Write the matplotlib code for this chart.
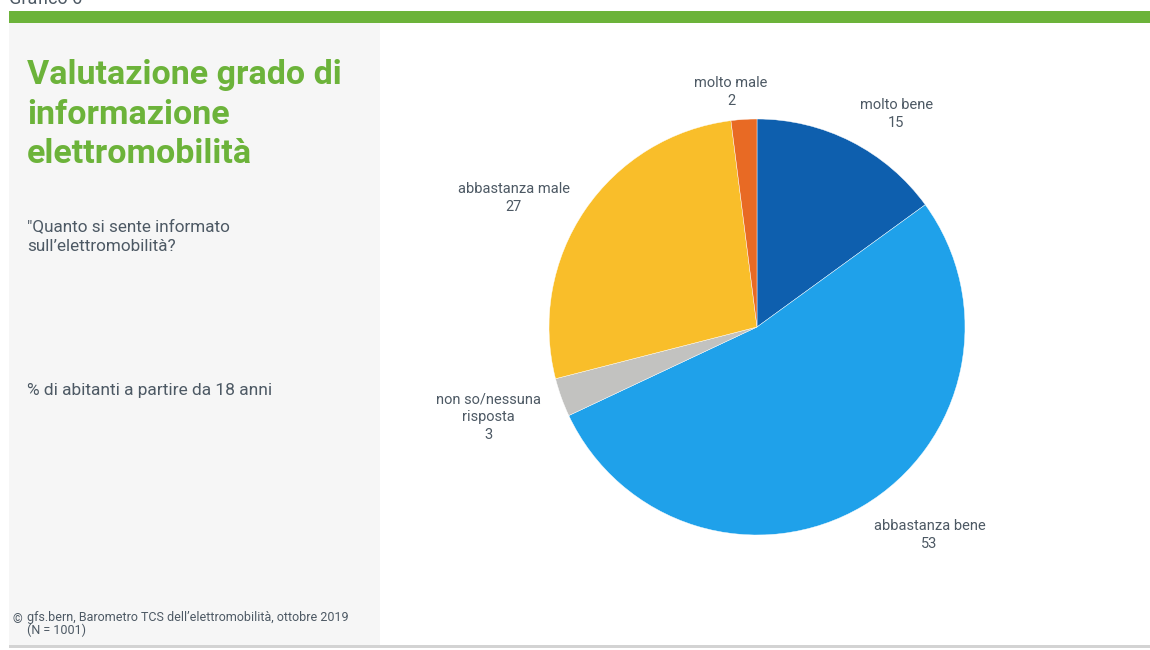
import matplotlib
matplotlib.use("Agg")
import matplotlib.pyplot as plt
from matplotlib.patches import Rectangle

plt.rcParams['font.family'] = ['Roboto', 'DejaVu Sans']

# valori in % (N = 1001)
categorie = ["molto bene", "abbastanza bene", "non so/nessuna\nrisposta", "abbastanza male", "molto male"]
valori = [15, 53, 3, 27, 2]
colori = ["#0e5fae", "#1fa1ea", "#c2c2c0", "#f9be2a", "#e86a24"]
# posizione etichette (coordinate dell'asse torta)
pos_etichette = [(0.67, 1.025), (0.83, -1.0), (-1.29, -0.435), (-1.17, 0.62), (-0.125, 1.13)]

W, H = 1150, 650
fig = plt.figure(figsize=(W / 100, H / 100), dpi=100)
fig.patch.set_facecolor("white")

def px(x, y, w, h):
    # rettangolo in pixel (origine in alto a sinistra) -> coordinate figura
    return [x / W, (H - y - h) / H, w / W, h / H]

# cornice: barra verde, pannello grigio, linea in fondo
for (x, y, w, h, c) in [(9, 11, 1141, 12, "#6cb33a"),
                        (9, 23, 371, 623, "#f6f6f6"),
                        (9, 645, 1141, 3, "#d3d3d3")]:
    b = px(x, y, w, h)
    fig.patches.append(Rectangle((b[0], b[1]), b[2], b[3], transform=fig.transFigure,
                                 facecolor=c, edgecolor="none", zorder=0))

testo = "#4d5964"
fig.text(9 / W, 1 - 4 / H, "Grafico 6", fontsize=13, color=testo, va="baseline")

fig.text(27 / W, 1 - 59 / H, "Valutazione grado di\ninformazione\nelettromobilità",
         fontsize=24.5, fontweight="bold", color="#6cb33a", va="top", linespacing=1.3)
fig.text(27 / W, 1 - 219 / H, "\"Quanto si sente informato\nsull’elettromobilità?",
         fontsize=12.3, color=testo, va="top", linespacing=1.45)
fig.text(27 / W, 1 - 383 / H, "% di abitanti a partire da 18 anni",
         fontsize=12.5, color=testo, va="top")
fig.text(12 / W, 1 - 613 / H, "©", fontsize=9, color=testo, va="top")
fig.text(27 / W, 1 - 611 / H, "gfs.bern, Barometro TCS dell’elettromobilità, ottobre 2019\n(N = 1001)",
         fontsize=9, color=testo, va="top", linespacing=0.95)

# torta: centro (757, 327), raggio 208 px
r = 208
ax = fig.add_axes(px(757 - r, 327 - r, 2 * r, 2 * r))
ax.pie(valori, colors=colori, startangle=90, counterclock=False, radius=1,
       wedgeprops=dict(edgecolor="white", linewidth=0.3))
ax.set_xlim(-1, 1)
ax.set_ylim(-1, 1)
ax.axis("off")

for nome, v, (x, y) in zip(categorie, valori, pos_etichette):
    ax.text(x, y, f"{nome}\n{v}", ha="center", va="center", fontsize=10.5,
            color=testo, linespacing=1.35, clip_on=False)

fig.savefig("out.png", dpi=100, facecolor="white")
